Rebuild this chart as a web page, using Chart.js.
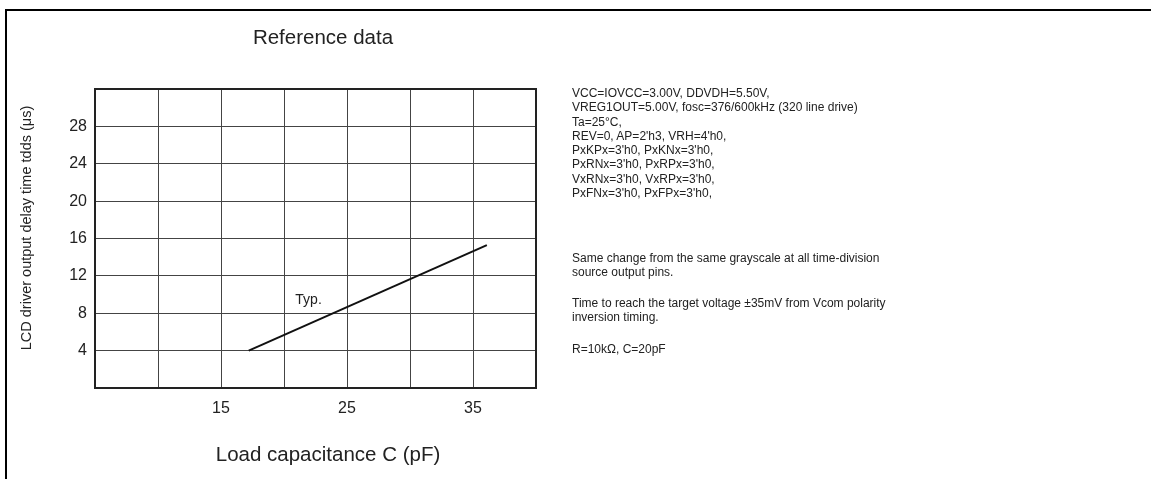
<!DOCTYPE html>
<html>
<head>
<meta charset="utf-8">
<script src="https://cdn.jsdelivr.net/npm/chart.js@4.4.1/dist/chart.umd.min.js"></script>
<style>
  html, body { margin: 0; padding: 0; background: #fff; }
  #wrap { position: relative; width: 1151px; height: 479px; overflow: hidden; }
  #frame { position: absolute; left: 5px; top: 9px; width: 1160px; height: 500px;
           border-left: 2px solid #000; border-top: 2px solid #000; }
  .note { position: absolute; left: 572px; font: 12px "Liberation Sans", Arial, sans-serif;
          line-height: 14.3px; color: #222; white-space: nowrap; }
  canvas { position: absolute; left: 0; top: 0; }
</style>
</head>
<body>
<div id="wrap">
  <canvas id="chart" width="1151" height="479"></canvas>
  <div id="frame"></div>
  <div class="note" style="top:86px">
    VCC=IOVCC=3.00V, DDVDH=5.50V,<br>
    VREG1OUT=5.00V, fosc=376/600kHz (320 line drive)<br>
    Ta=25°C,<br>
    REV=0, AP=2'h3, VRH=4'h0,<br>
    PxKPx=3'h0, PxKNx=3'h0,<br>
    PxRNx=3'h0, PxRPx=3'h0,<br>
    VxRNx=3'h0, VxRPx=3'h0,<br>
    PxFNx=3'h0, PxFPx=3'h0,
  </div>
  <div class="note" style="top:251px">
    Same change from the same grayscale at all time-division<br>
    source output pins.
  </div>
  <div class="note" style="top:296px">
    Time to reach the target voltage ±35mV from Vcom polarity<br>
    inversion timing.
  </div>
  <div class="note" style="top:342px">R=10kΩ, C=20pF</div>
</div>
<script>
// values
var loadCap = [17.2, 36.1];      // pF
var delayUs = [4.0, 15.3];       // tdds, us
var xTickLabels = [15, 25, 35];
var yTickLabels = [4, 8, 12, 16, 20, 24, 28];
var typLabel = {text: 'Typ.', x: 20.9, y: 9.4};

var FONT = '"Liberation Sans", Arial, sans-serif';

// plot box, titles and the "Typ." note
var textPlugin = {
  id: 'texts',
  afterDraw: function(chart){
    var ctx = chart.ctx;
    var a = chart.chartArea;
    var xs = chart.scales.x, ys = chart.scales.y;

    ctx.save();
    ctx.strokeStyle = '#222';
    ctx.lineWidth = 2;
    ctx.strokeRect(a.left, a.top, a.right - a.left, a.bottom - a.top);
    ctx.restore();

    ctx.save();
    ctx.fillStyle = '#222';
    ctx.textAlign = 'center';
    ctx.textBaseline = 'middle';

    ctx.font = '20.5px ' + FONT;
    ctx.fillText('Reference data', 323, 38);
    ctx.fillText('Load capacitance C (pF)', 328, 455);

    ctx.font = '14.5px ' + FONT;
    ctx.translate(27, 228);
    ctx.rotate(-Math.PI/2);
    ctx.fillText('LCD driver output delay time tdds (\u03bcs)', 0, 0);
    ctx.restore();

    ctx.save();
    ctx.fillStyle = '#222';
    ctx.font = '14px ' + FONT;
    ctx.textAlign = 'left';
    ctx.textBaseline = 'middle';
    ctx.fillText(typLabel.text, xs.getPixelForValue(typLabel.x), ys.getPixelForValue(typLabel.y));
    ctx.restore();
  }
};

var ctx = document.getElementById('chart').getContext('2d');
var chart = new Chart(ctx, {
  type: 'scatter',
  data: {
    datasets: [{
      label: 'Typ.',
      data: loadCap.map(function(c, i){ return {x: c, y: delayUs[i]}; }),
      showLine: true,
      borderColor: '#111',
      borderWidth: 2,
      pointRadius: 0,
      fill: false
    }]
  },
  options: {
    responsive: false,
    animation: false,
    layout: { padding: { left: 0, top: 89, right: 615, bottom: 0 } },
    plugins: {
      legend: { display: false },
      tooltip: { enabled: false },
      title: { display: false }
    },
    scales: {
      x: {
        type: 'linear',
        min: 5, max: 40,
        afterFit: function(s){ s.height = 91; },
        grid: { color: '#444', lineWidth: 1, drawTicks: false },
        border: { display: true, color: '#222', width: 2 },
        ticks: {
          stepSize: 5,
          padding: 11,
          color: '#222',
          font: { family: FONT, size: 16 },
          maxRotation: 0,
          autoSkip: false,
          callback: function(v){ return xTickLabels.indexOf(v) >= 0 ? String(v) : ''; }
        }
      },
      y: {
        type: 'linear',
        min: 0, max: 32,
        afterFit: function(s){ s.width = 95; },
        grid: { color: '#444', lineWidth: 1, drawTicks: false },
        border: { display: true, color: '#222', width: 2 },
        ticks: {
          stepSize: 4,
          padding: 8,
          color: '#222',
          font: { family: FONT, size: 16 },
          autoSkip: false,
          callback: function(v){ return yTickLabels.indexOf(v) >= 0 ? String(v) : ''; }
        }
      }
    }
  },
  plugins: [textPlugin]
});
</script>
</body>
</html>
